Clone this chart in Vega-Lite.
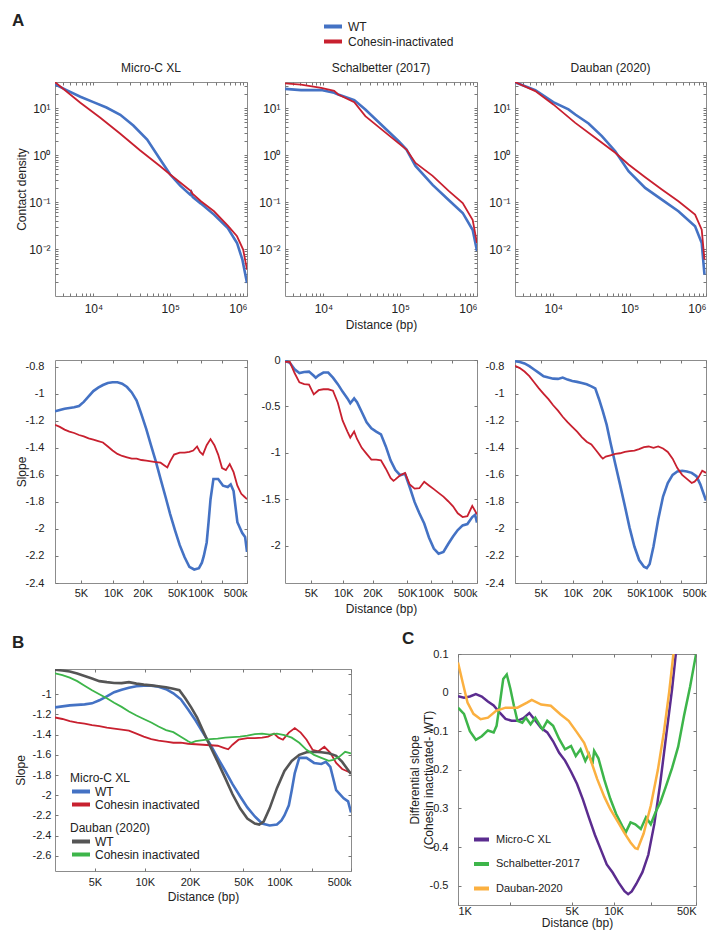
{
"$schema": "https://vega.github.io/schema/vega-lite/v6.json",
"padding": {"left": 12, "top": 12, "right": 8, "bottom": 8},
"background": "white",
"title": {"text": "A", "anchor": "start", "frame": "group", "fontSize": 17, "fontWeight": "bold", "dx": -43, "dy": 11, "offset": 0},
"config": {
  "font": "Liberation Sans",
  "view": {"stroke": "#8c8c8c", "strokeWidth": 1},
  "axis": {"domain": false, "grid": false, "tickColor": "#777", "tickSize": -3, "labelOverlap": false, "labelFontSize": 11, "labelColor": "#222", "titleFontSize": 12, "titleFontWeight": "normal", "titleColor": "#222", "labelFont": "Liberation Sans", "titleFont": "Liberation Sans"},
  "axisY": {"titleBaseline": "bottom"},
  "title": {"fontSize": 12, "fontWeight": "normal", "font": "Liberation Sans", "color": "#222", "offset": 5},
  "legend": {"labelFontSize": 12, "titleFontSize": 12, "titleFontWeight": "normal", "padding": 0, "symbolType": "M-1,0H2.6", "symbolStrokeWidth": 4, "symbolSize": 100, "labelColor": "#222", "titleColor": "#222", "labelFont": "Liberation Sans", "titleFont": "Liberation Sans"}
},
"datasets": {
  "tm": [
    {"d":3162,"v":32.0,"s":"WT"},{"d":4467,"v":24.2,"s":"WT"},{"d":6761,"v":17.5,"s":"WT"},{"d":10000,"v":13.4,"s":"WT"},{"d":14791,"v":10.3,"s":"WT"},{"d":22387,"v":7.21,"s":"WT"},{"d":33113,"v":4.27,"s":"WT"},{"d":50119,"v":2.15,"s":"WT"},{"d":74131,"v":0.804,"s":"WT"},{"d":100000,"v":0.385,"s":"WT"},{"d":134896,"v":0.224,"s":"WT"},{"d":181970,"v":0.144,"s":"WT"},{"d":188000,"v":0.16,"s":"WT"},{"d":196000,"v":0.128,"s":"WT"},{"d":251189,"v":0.0927,"s":"WT"},{"d":371535,"v":0.0541,"s":"WT"},{"d":562341,"v":0.0281,"s":"WT"},{"d":741310,"v":0.01346,"s":"WT"},{"d":870964,"v":0.00593,"s":"WT"},{"d":1000000,"v":0.00189,"s":"WT"},
    {"d":3162,"v":35.8,"s":"Cohesin-inactivated"},{"d":6761,"v":13.0,"s":"Cohesin-inactivated"},{"d":12303,"v":6.22,"s":"Cohesin-inactivated"},{"d":22387,"v":2.84,"s":"Cohesin-inactivated"},{"d":40738,"v":1.25,"s":"Cohesin-inactivated"},{"d":74131,"v":0.579,"s":"Cohesin-inactivated"},{"d":100000,"v":0.385,"s":"Cohesin-inactivated"},{"d":165959,"v":0.2,"s":"Cohesin-inactivated"},{"d":188000,"v":0.17,"s":"Cohesin-inactivated"},{"d":194984,"v":0.151,"s":"Cohesin-inactivated"},{"d":251189,"v":0.104,"s":"Cohesin-inactivated"},{"d":371535,"v":0.0637,"s":"Cohesin-inactivated"},{"d":562341,"v":0.0315,"s":"Cohesin-inactivated"},{"d":741310,"v":0.0187,"s":"Cohesin-inactivated"},{"d":891251,"v":0.00977,"s":"Cohesin-inactivated"},{"d":1000000,"v":0.00363,"s":"Cohesin-inactivated"}
  ],
  "ts": [
    {"d":3162,"v":25.7,"s":"WT"},{"d":5117,"v":24.2,"s":"WT"},{"d":9354,"v":24.2,"s":"WT"},{"d":13804,"v":21.2,"s":"WT"},{"d":15596,"v":19.5,"s":"WT"},{"d":25235,"v":14.8,"s":"WT"},{"d":35156,"v":9.33,"s":"WT"},{"d":94842,"v":2.0,"s":"WT"},{"d":120781,"v":1.31,"s":"WT"},{"d":158125,"v":0.589,"s":"WT"},{"d":264241,"v":0.232,"s":"WT"},{"d":427563,"v":0.111,"s":"WT"},{"d":651628,"v":0.0586,"s":"WT"},{"d":879023,"v":0.0254,"s":"WT"},{"d":1000000,"v":0.00906,"s":"WT"},
    {"d":3162,"v":33.5,"s":"Cohesin-inactivated"},{"d":5117,"v":31.8,"s":"Cohesin-inactivated"},{"d":9354,"v":27.1,"s":"Cohesin-inactivated"},{"d":13804,"v":23.4,"s":"Cohesin-inactivated"},{"d":15596,"v":19.5,"s":"Cohesin-inactivated"},{"d":25235,"v":13.4,"s":"Cohesin-inactivated"},{"d":35156,"v":6.75,"s":"Cohesin-inactivated"},{"d":94842,"v":1.8,"s":"Cohesin-inactivated"},{"d":120781,"v":1.31,"s":"Cohesin-inactivated"},{"d":158125,"v":0.682,"s":"Cohesin-inactivated"},{"d":264241,"v":0.361,"s":"Cohesin-inactivated"},{"d":427563,"v":0.173,"s":"Cohesin-inactivated"},{"d":651628,"v":0.0957,"s":"Cohesin-inactivated"},{"d":879023,"v":0.0415,"s":"Cohesin-inactivated"},{"d":1000000,"v":0.0134,"s":"Cohesin-inactivated"}
  ],
  "td": [
    {"d":3162,"v":35.5,"s":"WT"},{"d":5834,"v":24.2,"s":"WT"},{"d":10023,"v":13.4,"s":"WT"},{"d":15849,"v":9.38,"s":"WT"},{"d":19454,"v":7.33,"s":"WT"},{"d":29040,"v":4.71,"s":"WT"},{"d":43351,"v":2.53,"s":"WT"},{"d":64863,"v":1.21,"s":"WT"},{"d":96828,"v":0.454,"s":"WT"},{"d":159956,"v":0.2,"s":"WT"},{"d":264241,"v":0.113,"s":"WT"},{"d":435512,"v":0.0637,"s":"WT"},{"d":719449,"v":0.0305,"s":"WT"},{"d":879023,"v":0.01346,"s":"WT"},{"d":954993,"v":0.00284,"s":"WT"},
    {"d":3162,"v":36,"s":"Cohesin-inactivated"},{"d":5834,"v":23.0,"s":"Cohesin-inactivated"},{"d":10023,"v":12.0,"s":"Cohesin-inactivated"},{"d":19454,"v":4.86,"s":"Cohesin-inactivated"},{"d":35481,"v":2.33,"s":"Cohesin-inactivated"},{"d":64863,"v":1.12,"s":"Cohesin-inactivated"},{"d":96828,"v":0.63,"s":"Cohesin-inactivated"},{"d":159956,"v":0.338,"s":"Cohesin-inactivated"},{"d":264241,"v":0.185,"s":"Cohesin-inactivated"},{"d":435512,"v":0.104,"s":"Cohesin-inactivated"},{"d":719449,"v":0.0541,"s":"Cohesin-inactivated"},{"d":879023,"v":0.0259,"s":"Cohesin-inactivated"},{"d":954993,"v":0.00593,"s":"Cohesin-inactivated"}
  ],
  "sm": [
    {"d":3000,"v":-1.13,"s":"WT"},{"d":3290,"v":-1.12,"s":"WT"},{"d":3608,"v":-1.11,"s":"WT"},{"d":3968,"v":-1.105,"s":"WT"},{"d":4364,"v":-1.1,"s":"WT"},{"d":4810,"v":-1.09,"s":"WT"},{"d":5302,"v":-1.06,"s":"WT"},{"d":5864,"v":-1.02,"s":"WT"},{"d":6479,"v":-0.98,"s":"WT"},{"d":7187,"v":-0.955,"s":"WT"},{"d":7963,"v":-0.935,"s":"WT"},{"d":8861,"v":-0.92,"s":"WT"},{"d":9848,"v":-0.915,"s":"WT"},{"d":10998,"v":-0.915,"s":"WT"},{"d":12257,"v":-0.925,"s":"WT"},{"d":13739,"v":-0.95,"s":"WT"},{"d":15370,"v":-0.99,"s":"WT"},{"d":17283,"v":-1.05,"s":"WT"},{"d":19410,"v":-1.15,"s":"WT"},{"d":21906,"v":-1.26,"s":"WT"},{"d":24700,"v":-1.38,"s":"WT"},{"d":28000,"v":-1.5,"s":"WT"},{"d":31700,"v":-1.63,"s":"WT"},{"d":36119,"v":-1.76,"s":"WT"},{"d":41070,"v":-1.89,"s":"WT"},{"d":47004,"v":-2.01,"s":"WT"},{"d":53700,"v":-2.12,"s":"WT"},{"d":61790,"v":-2.21,"s":"WT"},{"d":71000,"v":-2.28,"s":"WT"},{"d":82130,"v":-2.3,"s":"WT"},{"d":94900,"v":-2.29,"s":"WT"},{"d":103977,"v":-2.25,"s":"WT"},{"d":110470,"v":-2.2,"s":"WT"},{"d":120981,"v":-2.1,"s":"WT"},{"d":128500,"v":-1.95,"s":"WT"},{"d":136920,"v":-1.78,"s":"WT"},{"d":150535,"v":-1.63,"s":"WT"},{"d":176300,"v":-1.63,"s":"WT"},{"d":207935,"v":-1.68,"s":"WT"},{"d":245300,"v":-1.69,"s":"WT"},{"d":272140,"v":-1.67,"s":"WT"},{"d":302009,"v":-1.72,"s":"WT"},{"d":347000,"v":-1.95,"s":"WT"},{"d":416440,"v":-2.03,"s":"WT"},{"d":464630,"v":-2.06,"s":"WT"},{"d":500000,"v":-2.17,"s":"WT"},
    {"d":3000,"v":-1.23,"s":"Cohesin-inactivated"},{"d":3290,"v":-1.245,"s":"Cohesin-inactivated"},{"d":3608,"v":-1.265,"s":"Cohesin-inactivated"},{"d":3968,"v":-1.28,"s":"Cohesin-inactivated"},{"d":4364,"v":-1.29,"s":"Cohesin-inactivated"},{"d":4810,"v":-1.305,"s":"Cohesin-inactivated"},{"d":5302,"v":-1.315,"s":"Cohesin-inactivated"},{"d":5864,"v":-1.33,"s":"Cohesin-inactivated"},{"d":6479,"v":-1.34,"s":"Cohesin-inactivated"},{"d":7187,"v":-1.35,"s":"Cohesin-inactivated"},{"d":7963,"v":-1.36,"s":"Cohesin-inactivated"},{"d":8861,"v":-1.39,"s":"Cohesin-inactivated"},{"d":9848,"v":-1.42,"s":"Cohesin-inactivated"},{"d":10998,"v":-1.445,"s":"Cohesin-inactivated"},{"d":12257,"v":-1.46,"s":"Cohesin-inactivated"},{"d":13739,"v":-1.47,"s":"Cohesin-inactivated"},{"d":15370,"v":-1.48,"s":"Cohesin-inactivated"},{"d":17283,"v":-1.48,"s":"Cohesin-inactivated"},{"d":19410,"v":-1.49,"s":"Cohesin-inactivated"},{"d":21906,"v":-1.495,"s":"Cohesin-inactivated"},{"d":24700,"v":-1.5,"s":"Cohesin-inactivated"},{"d":28000,"v":-1.505,"s":"Cohesin-inactivated"},{"d":31700,"v":-1.51,"s":"Cohesin-inactivated"},{"d":35193,"v":-1.53,"s":"Cohesin-inactivated"},{"d":38037,"v":-1.545,"s":"Cohesin-inactivated"},{"d":41070,"v":-1.5,"s":"Cohesin-inactivated"},{"d":45759,"v":-1.45,"s":"Cohesin-inactivated"},{"d":53700,"v":-1.435,"s":"Cohesin-inactivated"},{"d":61790,"v":-1.435,"s":"Cohesin-inactivated"},{"d":71000,"v":-1.43,"s":"Cohesin-inactivated"},{"d":79777,"v":-1.42,"s":"Cohesin-inactivated"},{"d":89590,"v":-1.39,"s":"Cohesin-inactivated"},{"d":97858,"v":-1.43,"s":"Cohesin-inactivated"},{"d":107175,"v":-1.45,"s":"Cohesin-inactivated"},{"d":120981,"v":-1.38,"s":"Cohesin-inactivated"},{"d":136920,"v":-1.335,"s":"Cohesin-inactivated"},{"d":155379,"v":-1.38,"s":"Cohesin-inactivated"},{"d":176300,"v":-1.45,"s":"Cohesin-inactivated"},{"d":201180,"v":-1.55,"s":"Cohesin-inactivated"},{"d":229580,"v":-1.565,"s":"Cohesin-inactivated"},{"d":262866,"v":-1.52,"s":"Cohesin-inactivated"},{"d":302009,"v":-1.58,"s":"Cohesin-inactivated"},{"d":347000,"v":-1.68,"s":"Cohesin-inactivated"},{"d":401500,"v":-1.74,"s":"Cohesin-inactivated"},{"d":447970,"v":-1.76,"s":"Cohesin-inactivated"},{"d":500000,"v":-1.78,"s":"Cohesin-inactivated"}
  ],
  "ss": [
    {"d":3000,"v":-0.01,"s":"WT"},{"d":3290,"v":-0.03,"s":"WT"},{"d":3608,"v":-0.1,"s":"WT"},{"d":3968,"v":-0.14,"s":"WT"},{"d":4364,"v":-0.13,"s":"WT"},{"d":4810,"v":-0.125,"s":"WT"},{"d":5302,"v":-0.17,"s":"WT"},{"d":5520,"v":-0.19,"s":"WT"},{"d":5864,"v":-0.165,"s":"WT"},{"d":6479,"v":-0.135,"s":"WT"},{"d":7187,"v":-0.135,"s":"WT"},{"d":7963,"v":-0.19,"s":"WT"},{"d":8861,"v":-0.26,"s":"WT"},{"d":9848,"v":-0.34,"s":"WT"},{"d":10998,"v":-0.413,"s":"WT"},{"d":11745,"v":-0.465,"s":"WT"},{"d":12838,"v":-0.413,"s":"WT"},{"d":13739,"v":-0.455,"s":"WT"},{"d":15370,"v":-0.56,"s":"WT"},{"d":17283,"v":-0.67,"s":"WT"},{"d":19410,"v":-0.734,"s":"WT"},{"d":21906,"v":-0.77,"s":"WT"},{"d":24700,"v":-0.8,"s":"WT"},{"d":28000,"v":-0.93,"s":"WT"},{"d":31700,"v":-1.08,"s":"WT"},{"d":36119,"v":-1.185,"s":"WT"},{"d":41070,"v":-1.24,"s":"WT"},{"d":47004,"v":-1.225,"s":"WT"},{"d":53700,"v":-1.37,"s":"WT"},{"d":61790,"v":-1.53,"s":"WT"},{"d":71000,"v":-1.65,"s":"WT"},{"d":82130,"v":-1.76,"s":"WT"},{"d":94900,"v":-1.91,"s":"WT"},{"d":110470,"v":-2.03,"s":"WT"},{"d":128500,"v":-2.085,"s":"WT"},{"d":150535,"v":-2.065,"s":"WT"},{"d":176300,"v":-1.98,"s":"WT"},{"d":207935,"v":-1.9,"s":"WT"},{"d":245300,"v":-1.83,"s":"WT"},{"d":291690,"v":-1.78,"s":"WT"},{"d":347000,"v":-1.766,"s":"WT"},{"d":416440,"v":-1.69,"s":"WT"},{"d":464630,"v":-1.665,"s":"WT"},{"d":500000,"v":-1.75,"s":"WT"},
    {"d":3000,"v":-0.02,"s":"Cohesin-inactivated"},{"d":3290,"v":-0.02,"s":"Cohesin-inactivated"},{"d":3608,"v":-0.14,"s":"Cohesin-inactivated"},{"d":3968,"v":-0.24,"s":"Cohesin-inactivated"},{"d":4364,"v":-0.26,"s":"Cohesin-inactivated"},{"d":4810,"v":-0.265,"s":"Cohesin-inactivated"},{"d":5302,"v":-0.37,"s":"Cohesin-inactivated"},{"d":5864,"v":-0.325,"s":"Cohesin-inactivated"},{"d":6479,"v":-0.315,"s":"Cohesin-inactivated"},{"d":7187,"v":-0.315,"s":"Cohesin-inactivated"},{"d":7963,"v":-0.33,"s":"Cohesin-inactivated"},{"d":8861,"v":-0.46,"s":"Cohesin-inactivated"},{"d":9848,"v":-0.65,"s":"Cohesin-inactivated"},{"d":10998,"v":-0.77,"s":"Cohesin-inactivated"},{"d":11745,"v":-0.835,"s":"Cohesin-inactivated"},{"d":12838,"v":-0.77,"s":"Cohesin-inactivated"},{"d":13739,"v":-0.85,"s":"Cohesin-inactivated"},{"d":15370,"v":-0.945,"s":"Cohesin-inactivated"},{"d":17283,"v":-1.01,"s":"Cohesin-inactivated"},{"d":19410,"v":-1.072,"s":"Cohesin-inactivated"},{"d":21906,"v":-1.072,"s":"Cohesin-inactivated"},{"d":24700,"v":-1.08,"s":"Cohesin-inactivated"},{"d":28000,"v":-1.17,"s":"Cohesin-inactivated"},{"d":31700,"v":-1.27,"s":"Cohesin-inactivated"},{"d":34293,"v":-1.3,"s":"Cohesin-inactivated"},{"d":36119,"v":-1.285,"s":"Cohesin-inactivated"},{"d":41070,"v":-1.24,"s":"Cohesin-inactivated"},{"d":47004,"v":-1.215,"s":"Cohesin-inactivated"},{"d":53700,"v":-1.34,"s":"Cohesin-inactivated"},{"d":61790,"v":-1.385,"s":"Cohesin-inactivated"},{"d":71000,"v":-1.38,"s":"Cohesin-inactivated"},{"d":82130,"v":-1.31,"s":"Cohesin-inactivated"},{"d":94900,"v":-1.35,"s":"Cohesin-inactivated"},{"d":110470,"v":-1.39,"s":"Cohesin-inactivated"},{"d":128500,"v":-1.43,"s":"Cohesin-inactivated"},{"d":150535,"v":-1.47,"s":"Cohesin-inactivated"},{"d":176300,"v":-1.52,"s":"Cohesin-inactivated"},{"d":207935,"v":-1.575,"s":"Cohesin-inactivated"},{"d":245300,"v":-1.65,"s":"Cohesin-inactivated"},{"d":291690,"v":-1.69,"s":"Cohesin-inactivated"},{"d":347000,"v":-1.68,"s":"Cohesin-inactivated"},{"d":416440,"v":-1.57,"s":"Cohesin-inactivated"},{"d":500000,"v":-1.66,"s":"Cohesin-inactivated"}
  ],
  "sd": [
    {"d":3000,"v":-0.758,"s":"WT"},{"d":3290,"v":-0.765,"s":"WT"},{"d":3608,"v":-0.775,"s":"WT"},{"d":3968,"v":-0.795,"s":"WT"},{"d":4364,"v":-0.82,"s":"WT"},{"d":4810,"v":-0.845,"s":"WT"},{"d":5302,"v":-0.87,"s":"WT"},{"d":5864,"v":-0.88,"s":"WT"},{"d":6479,"v":-0.888,"s":"WT"},{"d":7187,"v":-0.89,"s":"WT"},{"d":7963,"v":-0.88,"s":"WT"},{"d":8861,"v":-0.895,"s":"WT"},{"d":9848,"v":-0.905,"s":"WT"},{"d":10998,"v":-0.912,"s":"WT"},{"d":12257,"v":-0.92,"s":"WT"},{"d":13739,"v":-0.93,"s":"WT"},{"d":15370,"v":-0.945,"s":"WT"},{"d":16885,"v":-0.96,"s":"WT"},{"d":18535,"v":-1.04,"s":"WT"},{"d":20377,"v":-1.13,"s":"WT"},{"d":22440,"v":-1.23,"s":"WT"},{"d":24700,"v":-1.36,"s":"WT"},{"d":28000,"v":-1.52,"s":"WT"},{"d":31700,"v":-1.67,"s":"WT"},{"d":36119,"v":-1.83,"s":"WT"},{"d":41070,"v":-1.99,"s":"WT"},{"d":47004,"v":-2.13,"s":"WT"},{"d":53700,"v":-2.23,"s":"WT"},{"d":61790,"v":-2.28,"s":"WT"},{"d":67185,"v":-2.29,"s":"WT"},{"d":73130,"v":-2.26,"s":"WT"},{"d":82130,"v":-2.13,"s":"WT"},{"d":94900,"v":-1.93,"s":"WT"},{"d":110470,"v":-1.76,"s":"WT"},{"d":128500,"v":-1.66,"s":"WT"},{"d":150535,"v":-1.6,"s":"WT"},{"d":176300,"v":-1.575,"s":"WT"},{"d":207935,"v":-1.57,"s":"WT"},{"d":245300,"v":-1.575,"s":"WT"},{"d":291690,"v":-1.585,"s":"WT"},{"d":347000,"v":-1.61,"s":"WT"},{"d":401500,"v":-1.67,"s":"WT"},{"d":447970,"v":-1.73,"s":"WT"},{"d":500000,"v":-1.79,"s":"WT"},
    {"d":3000,"v":-0.793,"s":"Cohesin-inactivated"},{"d":3290,"v":-0.81,"s":"Cohesin-inactivated"},{"d":3608,"v":-0.835,"s":"Cohesin-inactivated"},{"d":3968,"v":-0.87,"s":"Cohesin-inactivated"},{"d":4364,"v":-0.915,"s":"Cohesin-inactivated"},{"d":4810,"v":-0.96,"s":"Cohesin-inactivated"},{"d":5302,"v":-1.0,"s":"Cohesin-inactivated"},{"d":5864,"v":-1.04,"s":"Cohesin-inactivated"},{"d":6479,"v":-1.085,"s":"Cohesin-inactivated"},{"d":7187,"v":-1.125,"s":"Cohesin-inactivated"},{"d":7963,"v":-1.17,"s":"Cohesin-inactivated"},{"d":8861,"v":-1.21,"s":"Cohesin-inactivated"},{"d":9848,"v":-1.245,"s":"Cohesin-inactivated"},{"d":10998,"v":-1.28,"s":"Cohesin-inactivated"},{"d":12257,"v":-1.32,"s":"Cohesin-inactivated"},{"d":13739,"v":-1.355,"s":"Cohesin-inactivated"},{"d":15370,"v":-1.375,"s":"Cohesin-inactivated"},{"d":17283,"v":-1.42,"s":"Cohesin-inactivated"},{"d":19410,"v":-1.465,"s":"Cohesin-inactivated"},{"d":20377,"v":-1.48,"s":"Cohesin-inactivated"},{"d":21906,"v":-1.465,"s":"Cohesin-inactivated"},{"d":24700,"v":-1.455,"s":"Cohesin-inactivated"},{"d":28000,"v":-1.445,"s":"Cohesin-inactivated"},{"d":31700,"v":-1.44,"s":"Cohesin-inactivated"},{"d":36119,"v":-1.43,"s":"Cohesin-inactivated"},{"d":41070,"v":-1.425,"s":"Cohesin-inactivated"},{"d":47004,"v":-1.42,"s":"Cohesin-inactivated"},{"d":53700,"v":-1.41,"s":"Cohesin-inactivated"},{"d":61790,"v":-1.395,"s":"Cohesin-inactivated"},{"d":71000,"v":-1.39,"s":"Cohesin-inactivated"},{"d":82130,"v":-1.4,"s":"Cohesin-inactivated"},{"d":94900,"v":-1.39,"s":"Cohesin-inactivated"},{"d":110470,"v":-1.405,"s":"Cohesin-inactivated"},{"d":128500,"v":-1.43,"s":"Cohesin-inactivated"},{"d":150535,"v":-1.48,"s":"Cohesin-inactivated"},{"d":176300,"v":-1.55,"s":"Cohesin-inactivated"},{"d":207935,"v":-1.6,"s":"Cohesin-inactivated"},{"d":245300,"v":-1.63,"s":"Cohesin-inactivated"},{"d":291690,"v":-1.66,"s":"Cohesin-inactivated"},{"d":323700,"v":-1.65,"s":"Cohesin-inactivated"},{"d":373246,"v":-1.62,"s":"Cohesin-inactivated"},{"d":431920,"v":-1.57,"s":"Cohesin-inactivated"},{"d":500000,"v":-1.585,"s":"Cohesin-inactivated"}
  ],
  "c": [
    {"d":1000,"v":-0.009,"s":"Micro-C XL"},{"d":1079,"v":-0.013,"s":"Micro-C XL"},{"d":1164,"v":-0.01,"s":"Micro-C XL"},{"d":1258,"v":-0.004,"s":"Micro-C XL"},{"d":1360,"v":-0.01,"s":"Micro-C XL"},{"d":1475,"v":-0.023,"s":"Micro-C XL"},{"d":1594,"v":-0.033,"s":"Micro-C XL"},{"d":1731,"v":-0.052,"s":"Micro-C XL"},{"d":1875,"v":-0.068,"s":"Micro-C XL"},{"d":2038,"v":-0.073,"s":"Micro-C XL"},{"d":2214,"v":-0.073,"s":"Micro-C XL"},{"d":2411,"v":-0.066,"s":"Micro-C XL"},{"d":2625,"v":-0.053,"s":"Micro-C XL"},{"d":2864,"v":-0.072,"s":"Micro-C XL"},{"d":3124,"v":-0.092,"s":"Micro-C XL"},{"d":3420,"v":-0.103,"s":"Micro-C XL"},{"d":3737,"v":-0.126,"s":"Micro-C XL"},{"d":4099,"v":-0.156,"s":"Micro-C XL"},{"d":4492,"v":-0.176,"s":"Micro-C XL"},{"d":4937,"v":-0.205,"s":"Micro-C XL"},{"d":5424,"v":-0.236,"s":"Micro-C XL"},{"d":5975,"v":-0.277,"s":"Micro-C XL"},{"d":6580,"v":-0.323,"s":"Micro-C XL"},{"d":7271,"v":-0.368,"s":"Micro-C XL"},{"d":8024,"v":-0.406,"s":"Micro-C XL"},{"d":8892,"v":-0.445,"s":"Micro-C XL"},{"d":9846,"v":-0.466,"s":"Micro-C XL"},{"d":10945,"v":-0.492,"s":"Micro-C XL"},{"d":12150,"v":-0.514,"s":"Micro-C XL"},{"d":12975,"v":-0.522,"s":"Micro-C XL"},{"d":13848,"v":-0.515,"s":"Micro-C XL"},{"d":15090,"v":-0.495,"s":"Micro-C XL"},{"d":16888,"v":-0.465,"s":"Micro-C XL"},{"d":18880,"v":-0.42,"s":"Micro-C XL"},{"d":21198,"v":-0.34,"s":"Micro-C XL"},{"d":23780,"v":-0.235,"s":"Micro-C XL"},{"d":26813,"v":-0.11,"s":"Micro-C XL"},{"d":30190,"v":0.01,"s":"Micro-C XL"},{"d":32537,"v":0.099,"s":"Micro-C XL"},{"d":35033,"v":0.2,"s":"Micro-C XL"},
    {"d":1000,"v":-0.039,"s":"Schalbetter-2017"},{"d":1079,"v":-0.055,"s":"Schalbetter-2017"},{"d":1164,"v":-0.1,"s":"Schalbetter-2017"},{"d":1258,"v":-0.122,"s":"Schalbetter-2017"},{"d":1360,"v":-0.113,"s":"Schalbetter-2017"},{"d":1475,"v":-0.098,"s":"Schalbetter-2017"},{"d":1594,"v":-0.103,"s":"Schalbetter-2017"},{"d":1658,"v":-0.086,"s":"Schalbetter-2017"},{"d":1731,"v":-0.03,"s":"Schalbetter-2017"},{"d":1816,"v":0.035,"s":"Schalbetter-2017"},{"d":1907,"v":0.047,"s":"Schalbetter-2017"},{"d":2005,"v":0.01,"s":"Schalbetter-2017"},{"d":2107,"v":-0.034,"s":"Schalbetter-2017"},{"d":2214,"v":-0.073,"s":"Schalbetter-2017"},{"d":2371,"v":-0.078,"s":"Schalbetter-2017"},{"d":2496,"v":-0.065,"s":"Schalbetter-2017"},{"d":2673,"v":-0.082,"s":"Schalbetter-2017"},{"d":2865,"v":-0.065,"s":"Schalbetter-2017"},{"d":3184,"v":-0.095,"s":"Schalbetter-2017"},{"d":3420,"v":-0.073,"s":"Schalbetter-2017"},{"d":3737,"v":-0.086,"s":"Schalbetter-2017"},{"d":4099,"v":-0.12,"s":"Schalbetter-2017"},{"d":4492,"v":-0.147,"s":"Schalbetter-2017"},{"d":4937,"v":-0.138,"s":"Schalbetter-2017"},{"d":5323,"v":-0.164,"s":"Schalbetter-2017"},{"d":5748,"v":-0.147,"s":"Schalbetter-2017"},{"d":6210,"v":-0.177,"s":"Schalbetter-2017"},{"d":6580,"v":-0.159,"s":"Schalbetter-2017"},{"d":6986,"v":-0.185,"s":"Schalbetter-2017"},{"d":7183,"v":-0.151,"s":"Schalbetter-2017"},{"d":7716,"v":-0.17,"s":"Schalbetter-2017"},{"d":8537,"v":-0.226,"s":"Schalbetter-2017"},{"d":9455,"v":-0.275,"s":"Schalbetter-2017"},{"d":10492,"v":-0.315,"s":"Schalbetter-2017"},{"d":11657,"v":-0.345,"s":"Schalbetter-2017"},{"d":12425,"v":-0.362,"s":"Schalbetter-2017"},{"d":13551,"v":-0.336,"s":"Schalbetter-2017"},{"d":14779,"v":-0.341,"s":"Schalbetter-2017"},{"d":16369,"v":-0.353,"s":"Schalbetter-2017"},{"d":18063,"v":-0.323,"s":"Schalbetter-2017"},{"d":19782,"v":-0.341,"s":"Schalbetter-2017"},{"d":21693,"v":-0.31,"s":"Schalbetter-2017"},{"d":23780,"v":-0.285,"s":"Schalbetter-2017"},{"d":26813,"v":-0.24,"s":"Schalbetter-2017"},{"d":30190,"v":-0.195,"s":"Schalbetter-2017"},{"d":34203,"v":-0.14,"s":"Schalbetter-2017"},{"d":38650,"v":-0.06,"s":"Schalbetter-2017"},{"d":43975,"v":0.015,"s":"Schalbetter-2017"},{"d":50000,"v":0.099,"s":"Schalbetter-2017"},
    {"d":1000,"v":0.078,"s":"Dauban-2020"},{"d":1063,"v":0.025,"s":"Dauban-2020"},{"d":1129,"v":-0.026,"s":"Dauban-2020"},{"d":1219,"v":-0.055,"s":"Dauban-2020"},{"d":1339,"v":-0.069,"s":"Dauban-2020"},{"d":1477,"v":-0.065,"s":"Dauban-2020"},{"d":1647,"v":-0.047,"s":"Dauban-2020"},{"d":1875,"v":-0.039,"s":"Dauban-2020"},{"d":2214,"v":-0.039,"s":"Dauban-2020"},{"d":2539,"v":-0.026,"s":"Dauban-2020"},{"d":2720,"v":-0.019,"s":"Dauban-2020"},{"d":3124,"v":-0.031,"s":"Dauban-2020"},{"d":3609,"v":-0.034,"s":"Dauban-2020"},{"d":4175,"v":-0.056,"s":"Dauban-2020"},{"d":4754,"v":-0.073,"s":"Dauban-2020"},{"d":5424,"v":-0.103,"s":"Dauban-2020"},{"d":6091,"v":-0.13,"s":"Dauban-2020"},{"d":6713,"v":-0.17,"s":"Dauban-2020"},{"d":7564,"v":-0.224,"s":"Dauban-2020"},{"d":8537,"v":-0.27,"s":"Dauban-2020"},{"d":9455,"v":-0.302,"s":"Dauban-2020"},{"d":10715,"v":-0.333,"s":"Dauban-2020"},{"d":12150,"v":-0.364,"s":"Dauban-2020"},{"d":13551,"v":-0.388,"s":"Dauban-2020"},{"d":14779,"v":-0.403,"s":"Dauban-2020"},{"d":15443,"v":-0.405,"s":"Dauban-2020"},{"d":17273,"v":-0.365,"s":"Dauban-2020"},{"d":19782,"v":-0.293,"s":"Dauban-2020"},{"d":22717,"v":-0.2,"s":"Dauban-2020"},{"d":25557,"v":-0.103,"s":"Dauban-2020"},{"d":28392,"v":0.0,"s":"Dauban-2020"},{"d":30969,"v":0.099,"s":"Dauban-2020"},{"d":33000,"v":0.2,"s":"Dauban-2020"}
  ]
},
"vconcat": [
  {
    "vconcat": [
      {
        "hconcat": [
          {
            "width": 192, "height": 214,
            "title": "Micro-C XL",
            "data": {"name": "tm"},
            "layer": [
              {
                "mark": {"type": "line", "clip": true},
                "encoding": {
                  "x": {"field": "d", "type": "quantitative", "scale": {"type": "log", "domain": [3162, 1000000], "nice": false}, "axis": {"orient": "bottom", "values": [4000,5000,6000,7000,8000,9000,10000,20000,30000,40000,50000,60000,70000,80000,90000,100000,200000,300000,400000,500000,600000,700000,800000,900000,1000000], "labelExpr": "datum.value == 10000 ? '10⁴' : datum.value == 100000 ? '10⁵' : datum.value == 1000000 ? '10⁶' : ''", "title": null, "labelPadding": 10, "labelFontSize": 12}},
                  "y": {"field": "v", "type": "quantitative", "scale": {"type": "log", "domain": [0.001, 36], "nice": false}, "axis": {"orient": "left", "values": [0.002,0.003,0.004,0.005,0.006,0.007,0.008,0.009,0.01,0.02,0.03,0.04,0.05,0.06,0.07,0.08,0.09,0.1,0.2,0.3,0.4,0.5,0.6,0.7,0.8,0.9,1,2,3,4,5,6,7,8,9,10,20,30], "labelExpr": "datum.value == 10 ? '10¹' : datum.value == 1 ? '10⁰' : datum.value == 0.1 ? '10⁻¹' : datum.value == 0.01 ? '10⁻²' : ''", "title": "Contact density", "titleX": -27, "labelPadding": 8, "labelFontSize": 12}},
                  "color": {"field": "s", "type": "nominal", "scale": {"domain": ["WT", "Cohesin-inactivated"], "range": ["#4472C4", "#C8202F"]}, "legend": {"orient": "none", "legendX": 267, "legendY": -63, "title": null, "rowPadding": 0, "clipHeight": 15, "labelOffset": 12}},
                  "strokeWidth": {"field": "s", "type": "ordinal", "scale": {"domain": ["WT", "Cohesin-inactivated"], "range": [2.6, 1.8]}, "legend": null}
                }
              },
              {
                "mark": {"type": "line", "opacity": 0, "clip": true},
                "encoding": {
                  "x": {"field": "d", "type": "quantitative", "axis": {"orient": "top", "labels": false, "title": null, "values": [4000,5000,6000,7000,8000,9000,10000,20000,30000,40000,50000,60000,70000,80000,90000,100000,200000,300000,400000,500000,600000,700000,800000,900000,1000000]}},
                  "y": {"field": "v", "type": "quantitative", "axis": {"orient": "right", "labels": false, "title": null, "values": [0.002,0.003,0.004,0.005,0.006,0.007,0.008,0.009,0.01,0.02,0.03,0.04,0.05,0.06,0.07,0.08,0.09,0.1,0.2,0.3,0.4,0.5,0.6,0.7,0.8,0.9,1,2,3,4,5,6,7,8,9,10,20,30]}}
                }
              }
            ],
            "resolve": {"axis": {"x": "independent", "y": "independent"}}
          },
          {
            "width": 192, "height": 214,
            "title": "Schalbetter (2017)",
            "data": {"name": "ts"},
            "layer": [
              {
                "mark": {"type": "line", "clip": true},
                "encoding": {
                  "x": {"field": "d", "type": "quantitative", "scale": {"type": "log", "domain": [3162, 1000000], "nice": false}, "axis": {"orient": "bottom", "values": [4000,5000,6000,7000,8000,9000,10000,20000,30000,40000,50000,60000,70000,80000,90000,100000,200000,300000,400000,500000,600000,700000,800000,900000,1000000], "labelExpr": "datum.value == 10000 ? '10⁴' : datum.value == 100000 ? '10⁵' : datum.value == 1000000 ? '10⁶' : ''", "title": "Distance (bp)", "labelPadding": 10, "labelFontSize": 12, "titlePadding": 5}},
                  "y": {"field": "v", "type": "quantitative", "scale": {"type": "log", "domain": [0.001, 36], "nice": false}, "axis": {"orient": "left", "values": [0.002,0.003,0.004,0.005,0.006,0.007,0.008,0.009,0.01,0.02,0.03,0.04,0.05,0.06,0.07,0.08,0.09,0.1,0.2,0.3,0.4,0.5,0.6,0.7,0.8,0.9,1,2,3,4,5,6,7,8,9,10,20,30], "labelExpr": "datum.value == 10 ? '10¹' : datum.value == 1 ? '10⁰' : datum.value == 0.1 ? '10⁻¹' : datum.value == 0.01 ? '10⁻²' : ''", "title": null, "labelPadding": 8, "labelFontSize": 12}},
                  "color": {"field": "s", "type": "nominal", "scale": {"domain": ["WT", "Cohesin-inactivated"], "range": ["#4472C4", "#C8202F"]}, "legend": {"orient": "none", "legendX": 267, "legendY": -63, "title": null, "rowPadding": 0, "clipHeight": 15, "labelOffset": 12}},
                  "strokeWidth": {"field": "s", "type": "ordinal", "scale": {"domain": ["WT", "Cohesin-inactivated"], "range": [2.6, 1.8]}, "legend": null}
                }
              },
              {
                "mark": {"type": "line", "opacity": 0, "clip": true},
                "encoding": {
                  "x": {"field": "d", "type": "quantitative", "axis": {"orient": "top", "labels": false, "title": null, "values": [4000,5000,6000,7000,8000,9000,10000,20000,30000,40000,50000,60000,70000,80000,90000,100000,200000,300000,400000,500000,600000,700000,800000,900000,1000000]}},
                  "y": {"field": "v", "type": "quantitative", "axis": {"orient": "right", "labels": false, "title": null, "values": [0.002,0.003,0.004,0.005,0.006,0.007,0.008,0.009,0.01,0.02,0.03,0.04,0.05,0.06,0.07,0.08,0.09,0.1,0.2,0.3,0.4,0.5,0.6,0.7,0.8,0.9,1,2,3,4,5,6,7,8,9,10,20,30]}}
                }
              }
            ],
            "resolve": {"axis": {"x": "independent", "y": "independent"}}
          },
          {
            "width": 191, "height": 214,
            "title": "Dauban (2020)",
            "data": {"name": "td"},
            "layer": [
              {
                "mark": {"type": "line", "clip": true},
                "encoding": {
                  "x": {"field": "d", "type": "quantitative", "scale": {"type": "log", "domain": [3162, 1000000], "nice": false}, "axis": {"orient": "bottom", "values": [4000,5000,6000,7000,8000,9000,10000,20000,30000,40000,50000,60000,70000,80000,90000,100000,200000,300000,400000,500000,600000,700000,800000,900000,1000000], "labelExpr": "datum.value == 10000 ? '10⁴' : datum.value == 100000 ? '10⁵' : datum.value == 1000000 ? '10⁶' : ''", "title": null, "labelPadding": 10, "labelFontSize": 12}},
                  "y": {"field": "v", "type": "quantitative", "scale": {"type": "log", "domain": [0.001, 36], "nice": false}, "axis": {"orient": "left", "values": [0.002,0.003,0.004,0.005,0.006,0.007,0.008,0.009,0.01,0.02,0.03,0.04,0.05,0.06,0.07,0.08,0.09,0.1,0.2,0.3,0.4,0.5,0.6,0.7,0.8,0.9,1,2,3,4,5,6,7,8,9,10,20,30], "labelExpr": "datum.value == 10 ? '10¹' : datum.value == 1 ? '10⁰' : datum.value == 0.1 ? '10⁻¹' : datum.value == 0.01 ? '10⁻²' : ''", "title": null, "labelPadding": 8, "labelFontSize": 12}},
                  "color": {"field": "s", "type": "nominal", "scale": {"domain": ["WT", "Cohesin-inactivated"], "range": ["#4472C4", "#C8202F"]}, "legend": {"orient": "none", "legendX": 267, "legendY": -63, "title": null, "rowPadding": 0, "clipHeight": 15, "labelOffset": 12}},
                  "strokeWidth": {"field": "s", "type": "ordinal", "scale": {"domain": ["WT", "Cohesin-inactivated"], "range": [2.6, 1.8]}, "legend": null}
                }
              },
              {
                "mark": {"type": "line", "opacity": 0, "clip": true},
                "encoding": {
                  "x": {"field": "d", "type": "quantitative", "axis": {"orient": "top", "labels": false, "title": null, "values": [4000,5000,6000,7000,8000,9000,10000,20000,30000,40000,50000,60000,70000,80000,90000,100000,200000,300000,400000,500000,600000,700000,800000,900000,1000000]}},
                  "y": {"field": "v", "type": "quantitative", "axis": {"orient": "right", "labels": false, "title": null, "values": [0.002,0.003,0.004,0.005,0.006,0.007,0.008,0.009,0.01,0.02,0.03,0.04,0.05,0.06,0.07,0.08,0.09,0.1,0.2,0.3,0.4,0.5,0.6,0.7,0.8,0.9,1,2,3,4,5,6,7,8,9,10,20,30]}}
                }
              }
            ],
            "resolve": {"axis": {"x": "independent", "y": "independent"}}
          }
        ],
        "spacing": 38,
        "bounds": "flush"
      },
      {
        "hconcat": [
          {
            "width": 192, "height": 223,
            "data": {"name": "sm"},
            "layer": [
              {
                "mark": {"type": "line", "clip": true},
                "encoding": {
                  "x": {"field": "d", "type": "quantitative", "scale": {"type": "pow", "exponent": -0.14, "domain": [3000, 500000], "nice": false, "zero": false}, "axis": {"orient": "bottom", "values": [5000, 10000, 20000, 50000, 100000, 200000, 500000], "labelExpr": "datum.value == 5000 ? '5K' : datum.value == 10000 ? '10K' : datum.value == 20000 ? '20K' : datum.value == 50000 ? '50K' : datum.value == 100000 ? '100K' : datum.value == 500000 ? '500k' : ''", "title": null, "labelPadding": 7}},
                  "y": {"field": "v", "type": "quantitative", "scale": {"domain": [-2.4, -0.75], "nice": false, "zero": false}, "axis": {"orient": "left", "values": [-2.4, -2.2, -2, -1.8, -1.6, -1.4, -1.2, -1, -0.8], "labelExpr": "'' + datum.value", "title": "Slope", "titleX": -27, "labelPadding": 14}},
                  "color": {"field": "s", "type": "nominal", "scale": {"domain": ["WT", "Cohesin-inactivated"], "range": ["#4472C4", "#C8202F"]}, "legend": null},
                  "strokeWidth": {"field": "s", "type": "ordinal", "scale": {"domain": ["WT", "Cohesin-inactivated"], "range": [2.6, 1.8]}, "legend": null}
                }
              },
              {
                "mark": {"type": "line", "opacity": 0, "clip": true},
                "encoding": {
                  "x": {"field": "d", "type": "quantitative", "axis": {"orient": "top", "labels": false, "title": null, "values": [5000, 10000, 20000, 50000, 100000, 200000, 500000]}},
                  "y": {"field": "v", "type": "quantitative", "axis": {"orient": "right", "labels": false, "title": null, "values": [-2.4, -2.2, -2, -1.8, -1.6, -1.4, -1.2, -1, -0.8]}}
                }
              }
            ],
            "resolve": {"axis": {"x": "independent", "y": "independent"}}
          },
          {
            "width": 192, "height": 223,
            "data": {"name": "ss"},
            "layer": [
              {
                "mark": {"type": "line", "clip": true},
                "encoding": {
                  "x": {"field": "d", "type": "quantitative", "scale": {"type": "pow", "exponent": -0.14, "domain": [3000, 500000], "nice": false, "zero": false}, "axis": {"orient": "bottom", "values": [5000, 10000, 20000, 50000, 100000, 200000, 500000], "labelExpr": "datum.value == 5000 ? '5K' : datum.value == 10000 ? '10K' : datum.value == 20000 ? '20K' : datum.value == 50000 ? '50K' : datum.value == 100000 ? '100K' : datum.value == 500000 ? '500k' : ''", "title": "Distance (bp)", "labelPadding": 7, "titlePadding": 5}},
                  "y": {"field": "v", "type": "quantitative", "scale": {"domain": [-2.4, 0], "nice": false, "zero": false}, "axis": {"orient": "left", "values": [-2, -1.5, -1, -0.5, 0], "labelExpr": "'' + datum.value", "title": null, "labelPadding": 8}},
                  "color": {"field": "s", "type": "nominal", "scale": {"domain": ["WT", "Cohesin-inactivated"], "range": ["#4472C4", "#C8202F"]}, "legend": null},
                  "strokeWidth": {"field": "s", "type": "ordinal", "scale": {"domain": ["WT", "Cohesin-inactivated"], "range": [2.6, 1.8]}, "legend": null}
                }
              },
              {
                "mark": {"type": "line", "opacity": 0, "clip": true},
                "encoding": {
                  "x": {"field": "d", "type": "quantitative", "axis": {"orient": "top", "labels": false, "title": null, "values": [5000, 10000, 20000, 50000, 100000, 200000, 500000]}},
                  "y": {"field": "v", "type": "quantitative", "axis": {"orient": "right", "labels": false, "title": null, "values": [-2, -1.5, -1, -0.5, 0]}}
                }
              }
            ],
            "resolve": {"axis": {"x": "independent", "y": "independent"}}
          },
          {
            "width": 191, "height": 223,
            "data": {"name": "sd"},
            "layer": [
              {
                "mark": {"type": "line", "clip": true},
                "encoding": {
                  "x": {"field": "d", "type": "quantitative", "scale": {"type": "pow", "exponent": -0.14, "domain": [3000, 500000], "nice": false, "zero": false}, "axis": {"orient": "bottom", "values": [5000, 10000, 20000, 50000, 100000, 200000, 500000], "labelExpr": "datum.value == 5000 ? '5K' : datum.value == 10000 ? '10K' : datum.value == 20000 ? '20K' : datum.value == 50000 ? '50K' : datum.value == 100000 ? '100K' : datum.value == 500000 ? '500k' : ''", "title": null, "labelPadding": 7}},
                  "y": {"field": "v", "type": "quantitative", "scale": {"domain": [-2.4, -0.75], "nice": false, "zero": false}, "axis": {"orient": "left", "values": [-2.4, -2.2, -2, -1.8, -1.6, -1.4, -1.2, -1, -0.8], "labelExpr": "'' + datum.value", "title": null, "labelPadding": 14}},
                  "color": {"field": "s", "type": "nominal", "scale": {"domain": ["WT", "Cohesin-inactivated"], "range": ["#4472C4", "#C8202F"]}, "legend": null},
                  "strokeWidth": {"field": "s", "type": "ordinal", "scale": {"domain": ["WT", "Cohesin-inactivated"], "range": [2.6, 1.8]}, "legend": null}
                }
              },
              {
                "mark": {"type": "line", "opacity": 0, "clip": true},
                "encoding": {
                  "x": {"field": "d", "type": "quantitative", "axis": {"orient": "top", "labels": false, "title": null, "values": [5000, 10000, 20000, 50000, 100000, 200000, 500000]}},
                  "y": {"field": "v", "type": "quantitative", "axis": {"orient": "right", "labels": false, "title": null, "values": [-2.4, -2.2, -2, -1.8, -1.6, -1.4, -1.2, -1, -0.8]}}
                }
              }
            ],
            "resolve": {"axis": {"x": "independent", "y": "independent"}}
          }
        ],
        "spacing": 38,
        "bounds": "flush"
      }
    ],
    "spacing": 22,
    "resolve": {"scale": {"color": "independent"}}
  },
  {
    "hconcat": [
      {
        "vconcat": [
          {
            "width": 296, "height": 1,
            "view": {"stroke": null},
            "title": {"text": "B", "anchor": "start", "frame": "group", "fontSize": 17, "fontWeight": "bold", "dx": -43, "offset": 0},
            "data": {"values": [{"a": 1}]},
            "mark": {"type": "point", "opacity": 0},
            "encoding": {}
          },
          {
            "width": 296, "height": 202,
            "layer": [
              {
                "data": {"name": "sm"},
                "mark": {"type": "line", "clip": true},
                "encoding": {
                  "x": {"field": "d", "type": "quantitative", "scale": {"type": "pow", "exponent": -0.14, "domain": [3000, 500000], "nice": false, "zero": false}, "axis": {"orient": "bottom", "values": [5000, 10000, 20000, 50000, 100000, 200000, 500000], "labelExpr": "datum.value == 5000 ? '5K' : datum.value == 10000 ? '10K' : datum.value == 20000 ? '20K' : datum.value == 50000 ? '50K' : datum.value == 100000 ? '100K' : datum.value == 500000 ? '500k' : ''", "title": "Distance (bp)", "labelPadding": 8, "titlePadding": 4}},
                  "y": {"field": "v", "type": "quantitative", "scale": {"domain": [-2.75, -0.75], "nice": false, "zero": false}, "axis": {"orient": "left", "values": [-2.6, -2.4, -2.2, -2, -1.8, -1.6, -1.4, -1.2, -1], "labelExpr": "'' + datum.value", "title": "Slope", "titleX": -28, "labelPadding": 7}},
                  "color": {"field": "s", "type": "nominal", "scale": {"domain": ["WT", "Cohesin-inactivated"], "range": ["#4472C4", "#C8202F"]}, "legend": {"orient": "none", "legendX": 15, "legendY": 104, "title": "Micro-C XL", "rowPadding": 0, "clipHeight": 13, "titlePadding": 0, "labelOffset": 11, "labelExpr": "replace(datum.label, '-', ' ')"}},
                  "strokeWidth": {"field": "s", "type": "ordinal", "scale": {"domain": ["WT", "Cohesin-inactivated"], "range": [2.6, 1.8]}, "legend": null}
                }
              },
              {
                "data": {"name": "sd"},
                "mark": {"type": "line", "clip": true},
                "encoding": {
                  "x": {"field": "d", "type": "quantitative", "axis": null},
                  "y": {"field": "v", "type": "quantitative", "axis": null},
                  "color": {"field": "s", "type": "nominal", "scale": {"domain": ["WT", "Cohesin-inactivated"], "range": ["#555555", "#3DB54A"]}, "legend": {"orient": "none", "legendX": 15, "legendY": 154, "title": "Dauban (2020)", "rowPadding": 0, "clipHeight": 13, "titlePadding": 0, "labelOffset": 11, "labelExpr": "replace(datum.label, '-', ' ')"}},
                  "strokeWidth": {"field": "s", "type": "ordinal", "scale": {"domain": ["WT", "Cohesin-inactivated"], "range": [2.6, 1.8]}, "legend": null}
                }
              },
              {
                "data": {"name": "sm"},
                "mark": {"type": "line", "opacity": 0, "clip": true},
                "encoding": {
                  "x": {"field": "d", "type": "quantitative", "axis": {"orient": "top", "labels": false, "title": null, "values": [5000, 10000, 20000, 50000, 100000, 200000, 500000]}},
                  "y": {"field": "v", "type": "quantitative", "axis": {"orient": "right", "labels": false, "title": null, "values": [-2.6, -2.4, -2.2, -2, -1.8, -1.6, -1.4, -1.2, -1, -0.8]}}
                }
              }
            ],
            "resolve": {"scale": {"color": "independent"}, "axis": {"x": "independent", "y": "independent"}}
          }
        ],
        "spacing": 10,
        "resolve": {"scale": {"color": "independent"}}
      },
      {
        "width": 238, "height": 251,
        "title": {"text": "C", "anchor": "start", "frame": "group", "fontSize": 17, "fontWeight": "bold", "dx": -56, "offset": 0},
        "data": {"name": "c"},
        "layer": [
          {
            "mark": {"type": "line", "clip": true, "strokeWidth": 2.5},
            "encoding": {
              "x": {"field": "d", "type": "quantitative", "scale": {"type": "pow", "exponent": -0.14, "domain": [1000, 50000], "nice": false, "zero": false}, "axis": {"orient": "bottom", "values": [1000, 2000, 5000, 10000, 20000, 50000], "labelExpr": "datum.value == 1000 ? '1K' : datum.value == 5000 ? '5K' : datum.value == 10000 ? '10K' : datum.value == 50000 ? '50K' : ''", "title": "Distance (bp)", "labelPadding": 3, "titlePadding": 1}},
              "y": {"field": "v", "type": "quantitative", "scale": {"domain": [-0.55, 0.1], "nice": false, "zero": false}, "axis": {"orient": "left", "values": [-0.5, -0.4, -0.3, -0.2, -0.1, 0, 0.1], "labelExpr": "'' + datum.value", "title": ["Differential slope", "(Cohesin inactivated- WT)"], "titleX": -37, "labelPadding": 13}},
              "color": {"field": "s", "type": "nominal", "scale": {"domain": ["Micro-C XL", "Schalbetter-2017", "Dauban-2020"], "range": ["#5B2C8F", "#3DB54A", "#FBB040"]}, "legend": {"orient": "none", "legendX": 14, "legendY": 178, "title": null, "labelFontSize": 11, "symbolType": "M-1,0H2", "rowPadding": 9.5, "clipHeight": 15, "labelOffset": 10}}
            }
          },
          {
            "mark": {"type": "line", "opacity": 0, "clip": true},
            "encoding": {
              "x": {"field": "d", "type": "quantitative", "axis": {"orient": "top", "labels": false, "title": null, "values": [1000, 2000, 5000, 10000, 20000, 50000]}},
              "y": {"field": "v", "type": "quantitative", "axis": {"orient": "right", "labels": false, "title": null, "values": [-0.5, -0.4, -0.3, -0.2, -0.1, 0, 0.1]}}
            }
          }
        ],
        "resolve": {"axis": {"x": "independent", "y": "independent"}}
      }
    ],
    "spacing": 49,
    "resolve": {"scale": {"color": "independent"}}
  }
],
"spacing": 14,
"resolve": {"scale": {"color": "independent"}}
}
